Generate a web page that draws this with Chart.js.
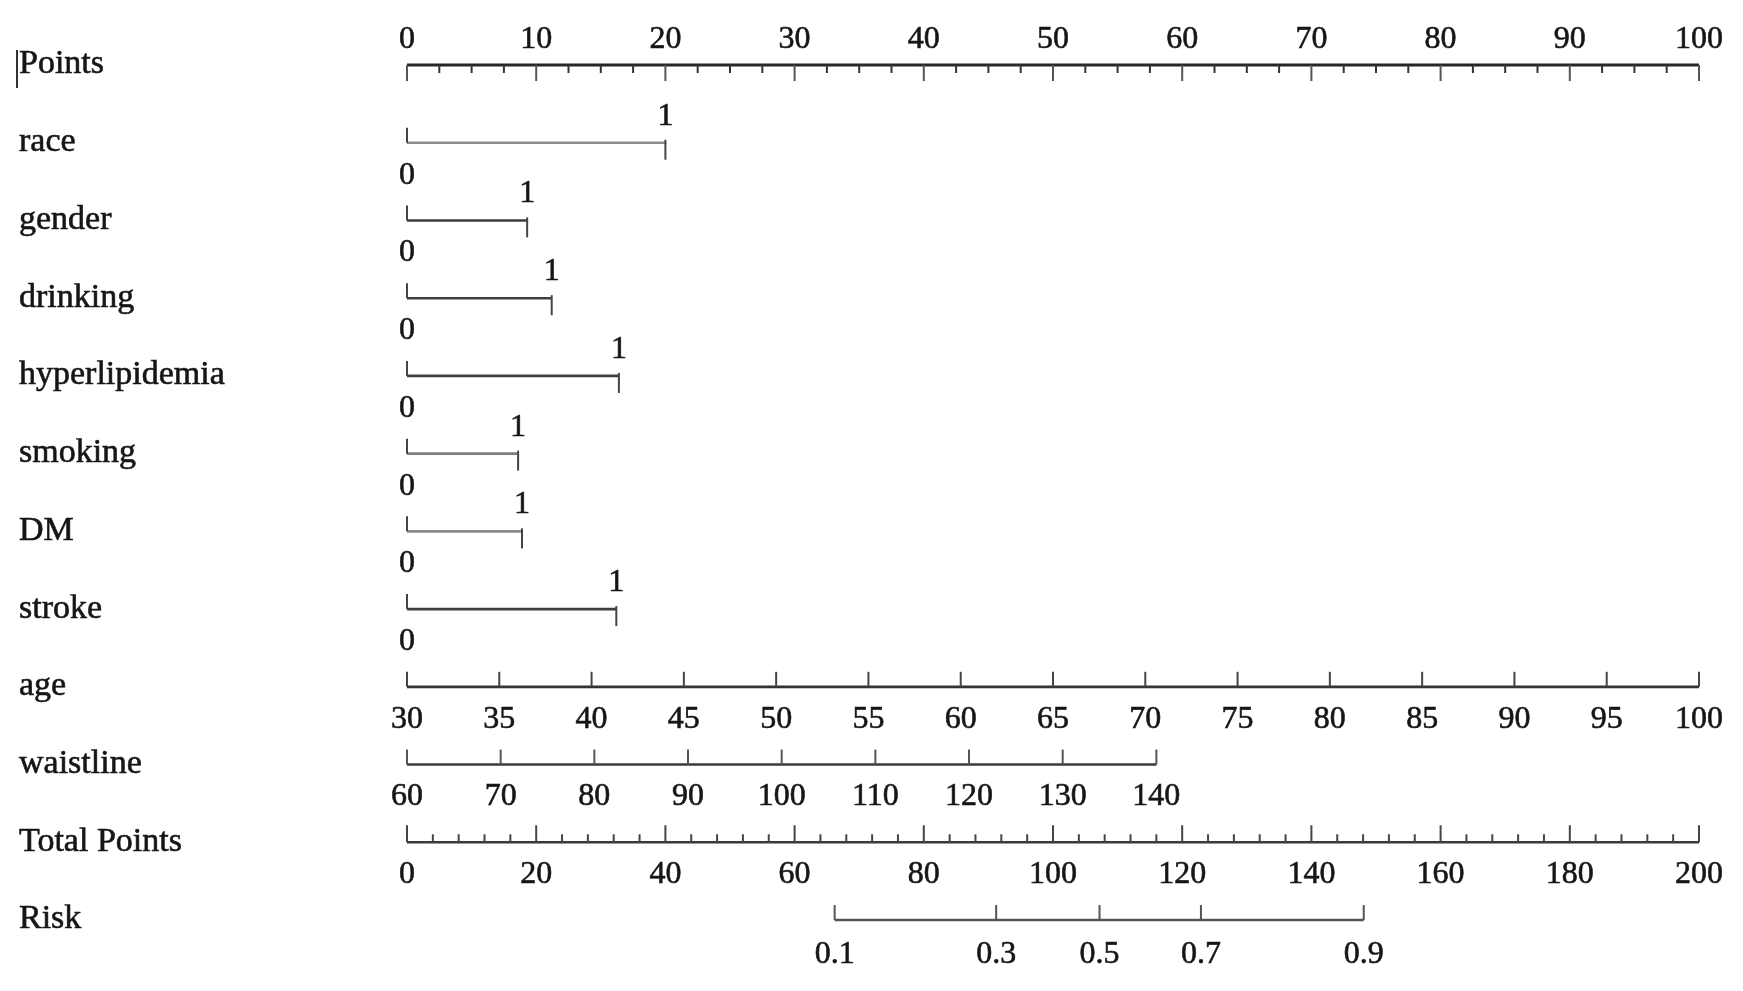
<!DOCTYPE html>
<html>
<head>
<meta charset="utf-8">
<script src="https://cdn.jsdelivr.net/npm/chart.js@4.4.1/dist/chart.umd.min.js"></script>
<style>
  html, body { margin: 0; padding: 0; background: #ffffff; }
  #wrap { width: 1743px; height: 991px; position: relative; }
</style>
</head>
<body>
<div id="wrap"><canvas id="c" width="1743" height="991"></canvas></div>
<script>
// ---------------- DATA ----------------
const rowNames = ['Points', 'race', 'gender', 'drinking', 'hyperlipidemia', 'smoking', 'DM', 'stroke', 'age', 'waistline', 'Total Points', 'Risk'];
const rowPos = [0, 1, 2, 3, 4, 5, 6, 7, 8, 9, 10, 11];

const pointsTicks = [0, 10, 20, 30, 40, 50, 60, 70, 80, 90, 100];
const pointsMinorStep = 2.5;

const catVars = ['race', 'gender', 'drinking', 'hyperlipidemia', 'smoking', 'DM', 'stroke'];
const catLevels = ['0', '1'];
const catPointsLevel1 = [20.0, 9.3, 11.2, 16.4, 8.6, 8.9, 16.2];
const catLineShade = ['#8c8c8c', '#3e3e3e', '#3e3e3e', '#3e3e3e', '#7e7e7e', '#8c8c8c', '#3e3e3e'];

const ageTicks = [30, 35, 40, 45, 50, 55, 60, 65, 70, 75, 80, 85, 90, 95, 100];
const ageRange = [30, 100];
const agePointsRange = [0, 100];

const waistTicks = [60, 70, 80, 90, 100, 110, 120, 130, 140];
const waistRange = [60, 140];
const waistPointsRange = [0, 58.0];

const totalTicks = [0, 20, 40, 60, 80, 100, 120, 140, 160, 180, 200];
const totalMinorStep = 4;

const riskLabels = ['0.1', '0.3', '0.5', '0.7', '0.9'];
const riskTotalPoints = [66.2, 91.2, 107.2, 122.9, 148.1];

// ---------------- helpers ----------------
function lin(v, r, p) { return p[0] + (v - r[0]) * (p[1] - p[0]) / (r[1] - r[0]); }

const datasets = [];
function seg(x0, x1, row, color, width, axis) {
  datasets.push({
    data: [{ x: x0, y: rowPos[row] }, { x: x1, y: rowPos[row] }],
    xAxisID: axis || 'x',
    borderColor: color,
    borderWidth: width,
    pointRadius: 0,
    clip: false,
    tension: 0
  });
}
seg(0, 100, 0, '#262626', 3);
catVars.forEach((v, i) => seg(0, catPointsLevel1[i], rowNames.indexOf(v), catLineShade[i], 2.6));
seg(agePointsRange[0], agePointsRange[1], 8, '#333333', 2.8);
seg(waistPointsRange[0], waistPointsRange[1], 9, '#3a3a3a', 2.6);
seg(0, 200, 10, '#3a3a3a', 2.6, 'xt');
seg(riskTotalPoints[0], riskTotalPoints[riskTotalPoints.length - 1], 11, '#555555', 2.4, 'xt');

const LABEL_FONT = '34px "Liberation Serif", "Times New Roman", serif';
const TICK_FONT = '32px "Liberation Serif", "Times New Roman", serif';
const TEXT_COLOR = '#161616';
const TS = 2.5; // vertical text nudge

const nomoPlugin = {
  id: 'nomo',
  afterDatasetsDraw(chart) {
    const ctx = chart.ctx;
    const sx = chart.scales.x, st = chart.scales.xt, sy = chart.scales.y;
    const Y = r => sy.getPixelForValue(rowPos[r]);
    const tick = (px, y, up, down, color, w) => {
      ctx.strokeStyle = color; ctx.lineWidth = w || 2;
      ctx.beginPath(); ctx.moveTo(px, y - up); ctx.lineTo(px, y + down); ctx.stroke();
    };
    const text = (s, px, py, font, align) => {
      ctx.font = font; ctx.fillStyle = TEXT_COLOR; ctx.strokeStyle = TEXT_COLOR; ctx.lineWidth = 0.6;
      ctx.textAlign = align || 'center'; ctx.textBaseline = 'middle';
      ctx.fillText(s, px, py + TS);
      ctx.strokeText(s, px, py + TS);
    };
    ctx.save();

    // row labels
    rowNames.forEach((n, i) => text(n, 19, Y(i) - 3, LABEL_FONT, 'left'));
    // small bracket left of "Points"
    ctx.strokeStyle = '#333'; ctx.lineWidth = 2;
    ctx.beginPath(); ctx.moveTo(17, 50); ctx.lineTo(17, 88); ctx.stroke();

    // Points axis
    let y = Y(0);
    for (let v = 0; v <= 100 + 1e-9; v += pointsMinorStep) {
      const major = pointsTicks.includes(v);
      tick(sx.getPixelForValue(v), y, 0, major ? 16 : 8, major ? '#555' : '#333', 2);
    }
    pointsTicks.forEach(v => text(String(v), sx.getPixelForValue(v), y - 28, TICK_FONT));

    // categorical variables
    catVars.forEach((v, i) => {
      const yy = Y(rowNames.indexOf(v));
      const x0 = sx.getPixelForValue(0), x1 = sx.getPixelForValue(catPointsLevel1[i]);
      tick(x0, yy, 15, 0, '#444', 2);
      tick(x1, yy, 3, 17, '#444', 2);
      text(catLevels[0], x0, yy + 30, TICK_FONT);
      text(catLevels[1], x1, yy - 29, TICK_FONT);
    });

    // age
    y = Y(8);
    ageTicks.forEach(v => {
      const px = sx.getPixelForValue(lin(v, ageRange, agePointsRange));
      tick(px, y, 15, 0, '#444', 2);
      text(String(v), px, y + 30, TICK_FONT);
    });

    // waistline
    y = Y(9);
    waistTicks.forEach(v => {
      const px = sx.getPixelForValue(lin(v, waistRange, waistPointsRange));
      tick(px, y, 15, 0, '#555', 2);
      text(String(v), px, y + 30, TICK_FONT);
    });

    // total points
    y = Y(10);
    for (let v = 0; v <= 200 + 1e-9; v += totalMinorStep) {
      const major = totalTicks.includes(v);
      tick(st.getPixelForValue(v), y, major ? 17 : 8, 0, '#444', 2);
    }
    totalTicks.forEach(v => text(String(v), st.getPixelForValue(v), y + 30, TICK_FONT));

    // risk
    y = Y(11);
    riskTotalPoints.forEach((v, i) => {
      const px = st.getPixelForValue(v);
      tick(px, y, 15, 0, '#555', 2);
      text(riskLabels[i], px, y + 32, TICK_FONT);
    });

    ctx.restore();
  }
};

new Chart(document.getElementById('c'), {
  type: 'line',
  data: { datasets },
  options: {
    responsive: false,
    animation: false,
    devicePixelRatio: 1,
    layout: { padding: { left: 407, right: 44, top: 65, bottom: 71 } },
    scales: {
      x: { type: 'linear', position: 'bottom', min: 0, max: 100, display: false },
      xt: { type: 'linear', axis: 'x', position: 'bottom', min: 0, max: 200, display: false },
      y: { type: 'linear', min: 0, max: rowPos[rowPos.length - 1], reverse: true, display: false }
    },
    plugins: { legend: { display: false }, tooltip: { enabled: false } }
  },
  plugins: [nomoPlugin]
});
</script>
</body>
</html>
